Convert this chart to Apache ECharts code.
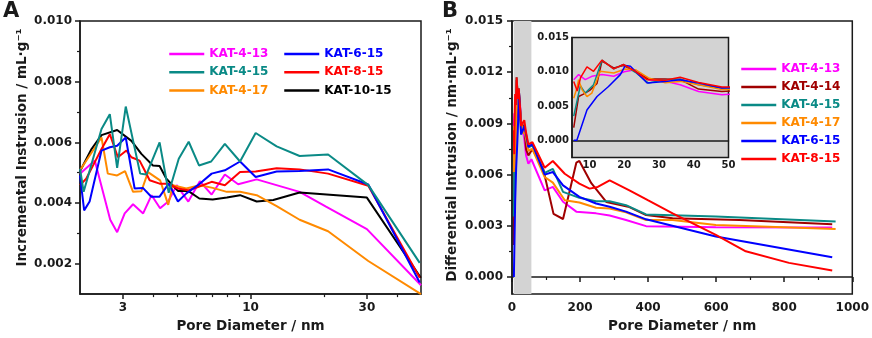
<!DOCTYPE html>
<html>
<head>
<meta charset="utf-8">
<script src="https://cdn.jsdelivr.net/npm/echarts@6/dist/echarts.min.js"></script>
<style>
html, body { margin: 0; padding: 0; background: #fff; }
#chart { width: 872px; height: 338px; }
</style>
</head>
<body>
<div id="chart"></div>
<script>
// panel A - incremental intrusion, pore diameter on log axis (nm, mL/g)
var a413 = [[2.0,0.00497],[2.3,0.0054],[2.66,0.00345],[2.84,0.00304],[3.05,0.00366],[3.3,0.00396],[3.63,0.00366],[3.93,0.00426],[4.26,0.00383],[4.6,0.00405],[4.98,0.00459],[5.56,0.00405],[6.2,0.00472],[6.93,0.00428],[7.85,0.00494],[8.9,0.00462],[10.6,0.00478],[15.9,0.00437],[20.4,0.00388],[30,0.00314],[50,0.00129]]
var a415 = [[2.0,0.00513],[2.07,0.00437],[2.45,0.00644],[2.65,0.00693],[2.84,0.00516],[3.08,0.00718],[3.53,0.00497],[3.74,0.00494],[4.24,0.0060],[4.62,0.00434],[5.08,0.00546],[5.58,0.00602],[6.15,0.00524],[6.9,0.00537],[7.85,0.00595],[9.06,0.00537],[10.5,0.00631],[12.8,0.00587],[15.9,0.00555],[20.8,0.0056],[30.4,0.00459],[49.4,0.00203]]
var a417 = [[2.0,0.00508],[2.45,0.00616],[2.6,0.00497],[2.84,0.00491],[3.06,0.00505],[3.3,0.00437],[3.57,0.00439],[3.8,0.00502],[4.26,0.00475],[4.6,0.00394],[4.8,0.00459],[5.45,0.00448],[6.2,0.00459],[7.0,0.0045],[8.0,0.00437],[9.06,0.00437],[10.6,0.00426],[12.8,0.0039],[15.9,0.00345],[20.8,0.00307],[30.4,0.00209],[50,0.001]]
var a615 = [[2.0,0.00491],[2.08,0.00376],[2.19,0.00405],[2.45,0.00573],[2.65,0.00584],[2.84,0.00589],[3.08,0.00616],[3.35,0.00448],[3.62,0.0045],[3.92,0.00421],[4.24,0.00421],[4.62,0.00464],[5.04,0.00405],[5.46,0.00432],[6.09,0.00459],[6.93,0.00497],[7.85,0.00508],[9.06,0.00537],[10.5,0.00486],[12.8,0.00504],[15.9,0.00506],[20.8,0.00511],[30.4,0.00461],[49.4,0.00138]]
var a815 = [[2.0,0.00459],[2.12,0.0048],[2.3,0.00535],[2.45,0.00578],[2.65,0.00627],[2.86,0.00551],[3.1,0.00573],[3.25,0.00551],[3.51,0.0054],[3.68,0.00508],[3.86,0.00475],[4.24,0.00464],[4.59,0.00464],[5.04,0.00448],[5.55,0.00442],[6.09,0.00453],[6.93,0.0047],[7.85,0.00459],[9.06,0.00502],[10.5,0.00504],[12.8,0.00515],[15.9,0.00511],[20.8,0.00497],[30.4,0.00457],[49.4,0.00154]]
var a1015 = [[2.01,0.00508],[2.23,0.00578],[2.45,0.00624],[2.84,0.00641],[3.25,0.00605],[3.57,0.00562],[3.98,0.00524],[4.24,0.00522],[4.52,0.0048],[5.04,0.0044],[5.55,0.0044],[6.17,0.00415],[7.0,0.00412],[8.0,0.00418],[9.06,0.00426],[10.6,0.00405],[12.4,0.0041],[15.9,0.00435],[30,0.00418],[49.9,0.00154]]

// panel B - differential intrusion (main plot + inset share the same arrays)
var b413 = [[5.5,0.00885],[6.9,0.00959],[8.8,0.00885],[10.7,0.00934],[13.6,0.00959],[17,0.00934],[20,0.0100],[23.2,0.0103],[27,0.00885],[31.8,0.0086],[36.1,0.00811],[41.4,0.00712],[48.1,0.00664],[57,0.0069],[96,0.00508],[120,0.00528],[150,0.00441],[189,0.00383],[247,0.00373],[287,0.0036],[335,0.00334],[394,0.00298],[599,0.00292],[941,0.0029]]
var b414 = [[5.5,0.00187],[6.9,0.00639],[8.3,0.00674],[10.3,0.00737],[12.2,0.0083],[13.6,0.01155],[17,0.01057],[19.8,0.01091],[23.2,0.01007],[27,0.00895],[31.8,0.00895],[36.1,0.00885],[41.4,0.00748],[48.1,0.00712],[60,0.0075],[92,0.0063],[122,0.0037],[150,0.0034],[189,0.0067],[198,0.0068],[233,0.0055],[277,0.0044],[345,0.0041],[394,0.00363],[472,0.00344],[668,0.00334],[941,0.00309]]
var b415 = [[5.5,0.00354],[7.4,0.00796],[8.8,0.00689],[11.2,0.0081],[13.6,0.0117],[17,0.01043],[19.8,0.01106],[23.2,0.00993],[27,0.00836],[31.8,0.00885],[36.1,0.00895],[41.4,0.00811],[48.1,0.00762],[60,0.0077],[96,0.0061],[120,0.00634],[150,0.00499],[198,0.00464],[247,0.00444],[287,0.00444],[335,0.00421],[394,0.00367],[599,0.00354],[951,0.00325]]
var b417 = [[5.5,0.00615],[6.4,0.0076],[6.9,0.00885],[7.9,0.00737],[9.3,0.00639],[10.7,0.00689],[13.1,0.01007],[17,0.00983],[20.3,0.0104],[23.2,0.0103],[27,0.0091],[31.8,0.0084],[36.1,0.0086],[41.4,0.0081],[48.1,0.0074],[60,0.0075],[96,0.00586],[120,0.00553],[155,0.0045],[198,0.00437],[247,0.00406],[287,0.00402],[335,0.00379],[394,0.00334],[472,0.00334],[599,0.00305],[951,0.00282]]
var b615 = [[5.5,0],[6.4,0],[9.3,0.00442],[12.2,0.00639],[15.5,0.00786],[18.9,0.00959],[20.3,0.01091],[21.8,0.01081],[23.2,0.01007],[26.6,0.00836],[31.8,0.0086],[36.1,0.00885],[41.4,0.00836],[48.1,0.00762],[60,0.0078],[96,0.006],[120,0.00615],[150,0.00537],[198,0.0047],[247,0.00431],[287,0.00412],[335,0.00383],[394,0.00338],[599,0.00238],[941,0.00116]]
var b815 = [[5.5,0.0086],[6.5,0.0072],[7.5,0.0092],[9.3,0.01072],[11.2,0.01007],[13.6,0.0117],[17,0.01043],[19.8,0.01106],[23.2,0.01007],[26.6,0.00885],[31.8,0.00875],[36.1,0.00919],[41.4,0.00845],[48.1,0.00777],[60,0.0079],[96,0.0064],[120,0.0068],[155,0.00605],[198,0.00547],[228,0.00518],[252,0.00528],[287,0.00566],[345,0.00508],[399,0.0045],[472,0.00373],[599,0.00247],[687,0.00151],[814,0.00083],[941,0.00038]]
var bandB = [5, 57]

// ticks
var aXLabels = [3, 10, 30]
var aXMinor = [4, 5, 6, 7, 8, 9, 20, 40]
var aYLabels = [0.002, 0.004, 0.006, 0.008, 0.010]
var aYMinor = [0.003, 0.005, 0.007, 0.009]
var bYLabels = [0, 0.003, 0.006, 0.009, 0.012, 0.015]
var bYMinor = [0.0015, 0.0045, 0.0075, 0.0105, 0.0135]
var insetXLabels = [10, 20, 30, 40, 50]
var insetYLabels = [0, 0.005, 0.010, 0.015]

var colors = {
  'KAT-4-13': '#ff00ff',
  'KAT-4-14': '#a00000',
  'KAT-4-15': '#0a8a86',
  'KAT-4-17': '#ff8a00',
  'KAT-6-15': '#0000ff',
  'KAT-8-15': '#ff0000',
  'KAT-10-15': '#000000'
}

var FONT = 'DejaVu Sans'
var INK = '#1a1a1a'

function line (name, data, xi, yi, w) {
  return {
    type: 'line',
    name: name,
    data: data,
    xAxisIndex: xi,
    yAxisIndex: yi,
    symbol: 'none',
    z: 3,
    lineStyle: { color: colors[name], width: w },
    itemStyle: { color: colors[name] }
  }
}

function legendData (names) {
  return names.map(function (n) {
    return { name: n, textStyle: { color: colors[n] } }
  })
}

function legendBox (left, top, gap, names) {
  return {
    left: left, top: top, orient: 'vertical', padding: 0,
    itemWidth: 35, itemHeight: 14, itemGap: gap, selectedMode: false,
    itemStyle: { opacity: 0 },
    lineStyle: { width: 2.5 },
    textStyle: { fontFamily: FONT, fontWeight: 'bold', fontSize: 12 },
    data: legendData(names)
  }
}

var fix3 = function (v) { return (+v).toFixed(3) }
var axisLineStyle = { show: true, lineStyle: { color: INK, width: 1.5 } }
var labelStyle = { fontFamily: FONT, fontWeight: 'bold', fontSize: 12, color: INK }
var nameStyle = { fontFamily: FONT, fontWeight: 'bold', fontSize: 13.5, color: INK }

var chart = echarts.init(document.getElementById('chart'))

var seriesA = [
  line('KAT-4-13', a413, 0, 0, 2),
  line('KAT-10-15', a1015, 0, 0, 2),
  line('KAT-4-17', a417, 0, 0, 2),
  line('KAT-8-15', a815, 0, 0, 2),
  line('KAT-6-15', a615, 0, 0, 2),
  line('KAT-4-15', a415, 0, 0, 2)
]
var bNames = ['KAT-4-13', 'KAT-4-14', 'KAT-4-15', 'KAT-4-17', 'KAT-6-15', 'KAT-8-15']
var bData = [b413, b414, b415, b417, b615, b815]
var seriesB = bNames.map(function (n, i) { return line(n, bData[i], 2, 2, 2) })
seriesB[0].markArea = {
  silent: true,
  z: 1,
  itemStyle: { color: '#d3d3d3' },
  data: [[{ xAxis: bandB[0] }, { xAxis: bandB[1] }]]
}
var seriesInset = bNames.map(function (n, i) { return line(n, bData[i], 4, 5, 1.5) })
seriesInset.forEach(function (s) { s.z = 6 })

var option = {
  animation: false,
  backgroundColor: '#fff',
  graphic: [
    { type: 'text', left: 3, top: 1, style: { text: 'A', font: 'bold 21px "DejaVu Sans"', fill: INK } },
    { type: 'text', left: 442, top: 1, style: { text: 'B', font: 'bold 21px "DejaVu Sans"', fill: INK } }
  ],
  grid: [
    { left: 80, top: 21, width: 341, height: 276, show: true, borderColor: INK, borderWidth: 1.5, backgroundColor: 'transparent' },
    { left: 512, top: 21, width: 341, height: 276, show: true, borderColor: INK, borderWidth: 1.5, backgroundColor: 'transparent' },
    { left: 572, top: 37.5, width: 156.5, height: 120, show: true, borderColor: INK, borderWidth: 1.5, backgroundColor: '#d3d3d3', z: 5 }
  ],
  legend: [
    legendBox(168, 48, 6.3, ['KAT-4-13', 'KAT-4-15', 'KAT-4-17']),
    legendBox(283, 48, 6.3, ['KAT-6-15', 'KAT-8-15', 'KAT-10-15']),
    legendBox(740, 63, 6, bNames)
  ],
  xAxis: [
    { gridIndex: 0, type: 'log', logBase: 10, min: 2, max: 50, position: 'bottom',
      axisLine: axisLineStyle, splitLine: { show: false },
      axisTick: { show: true, customValues: aXLabels, length: 5, lineStyle: { color: INK, width: 1.5 } },
      axisLabel: Object.assign({ customValues: aXLabels, margin: 8, formatter: function (v) { return String(Math.round(v)) } }, labelStyle),
      name: 'Pore Diameter / nm', nameLocation: 'middle', nameGap: 22, nameTextStyle: nameStyle },
    { gridIndex: 0, type: 'log', logBase: 10, min: 2, max: 50, position: 'bottom', offset: 0,
      axisLine: { show: false }, splitLine: { show: false }, axisLabel: { show: false },
      axisTick: { show: true, customValues: aXMinor, length: 3, lineStyle: { color: INK, width: 1.2 } } },
    { gridIndex: 1, type: 'value', min: 0, max: 1000, interval: 200,
      axisLine: axisLineStyle, splitLine: { show: false },
      axisTick: { show: true, length: 5, lineStyle: { color: INK, width: 1.5 } },
      minorTick: { show: true, splitNumber: 2, length: 3, lineStyle: { color: INK, width: 1.2 } },
      axisLabel: Object.assign({ margin: 8, formatter: function (v) { return String(v) } }, labelStyle),
      name: 'Pore Diameter / nm', nameLocation: 'middle', nameGap: 22, nameTextStyle: nameStyle },
    { gridIndex: 1, type: 'value', min: 0, max: 1000, show: false },
    { gridIndex: 2, type: 'value', min: 5, max: 50, z: 6,
      axisLine: axisLineStyle, splitLine: { show: false }, axisTick: { show: false },
      axisLabel: Object.assign({}, labelStyle, { customValues: insetXLabels, margin: 3, fontSize: 10 }) }
  ],
  yAxis: [
    { gridIndex: 0, type: 'value', min: 0.001, max: 0.010,
      axisLine: axisLineStyle, splitLine: { show: false },
      axisTick: { show: true, customValues: aYLabels, length: 5, lineStyle: { color: INK, width: 1.5 } },
      axisLabel: Object.assign({ customValues: aYLabels, margin: 8, formatter: fix3 }, labelStyle),
      name: 'Incremental Instrusion / mL·g⁻¹', nameLocation: 'middle', nameGap: 51,
      nameTextStyle: Object.assign({ padding: [0, 0, 0, 20] }, nameStyle) },
    { gridIndex: 0, type: 'value', min: 0.001, max: 0.010, position: 'left', offset: 0,
      axisLine: { show: false }, splitLine: { show: false }, axisLabel: { show: false },
      axisTick: { show: true, customValues: aYMinor, length: 3, lineStyle: { color: INK, width: 1.2 } } },
    { gridIndex: 1, type: 'value', min: -0.001, max: 0.015,
      axisLine: axisLineStyle, splitLine: { show: false },
      axisTick: { show: true, customValues: bYLabels, length: 5, lineStyle: { color: INK, width: 1.5 } },
      axisLabel: Object.assign({ customValues: bYLabels, margin: 9, formatter: fix3 }, labelStyle),
      name: 'Differential Intrusion / nm·mL·g⁻¹', nameLocation: 'middle', nameGap: 53,
      nameTextStyle: Object.assign({ padding: [0, 0, 0, 5] }, nameStyle) },
    { gridIndex: 1, type: 'value', min: -0.001, max: 0.015, position: 'left', offset: 0,
      axisLine: { show: false }, splitLine: { show: false }, axisLabel: { show: false },
      axisTick: { show: true, customValues: bYMinor, length: 3, lineStyle: { color: INK, width: 1.2 } } },
    { gridIndex: 1, type: 'value', min: -0.001, max: 0.015, show: false },
    { gridIndex: 2, type: 'value', min: -0.0025, max: 0.015, z: 6,
      axisLine: axisLineStyle, splitLine: { show: false }, axisTick: { show: false },
      axisLabel: Object.assign({}, labelStyle, { customValues: insetYLabels, margin: 3, fontSize: 10, formatter: fix3 }) }
  ],
  series: seriesA.concat(seriesB, seriesInset)
}

chart.setOption(option)
</script>
</body>
</html>
